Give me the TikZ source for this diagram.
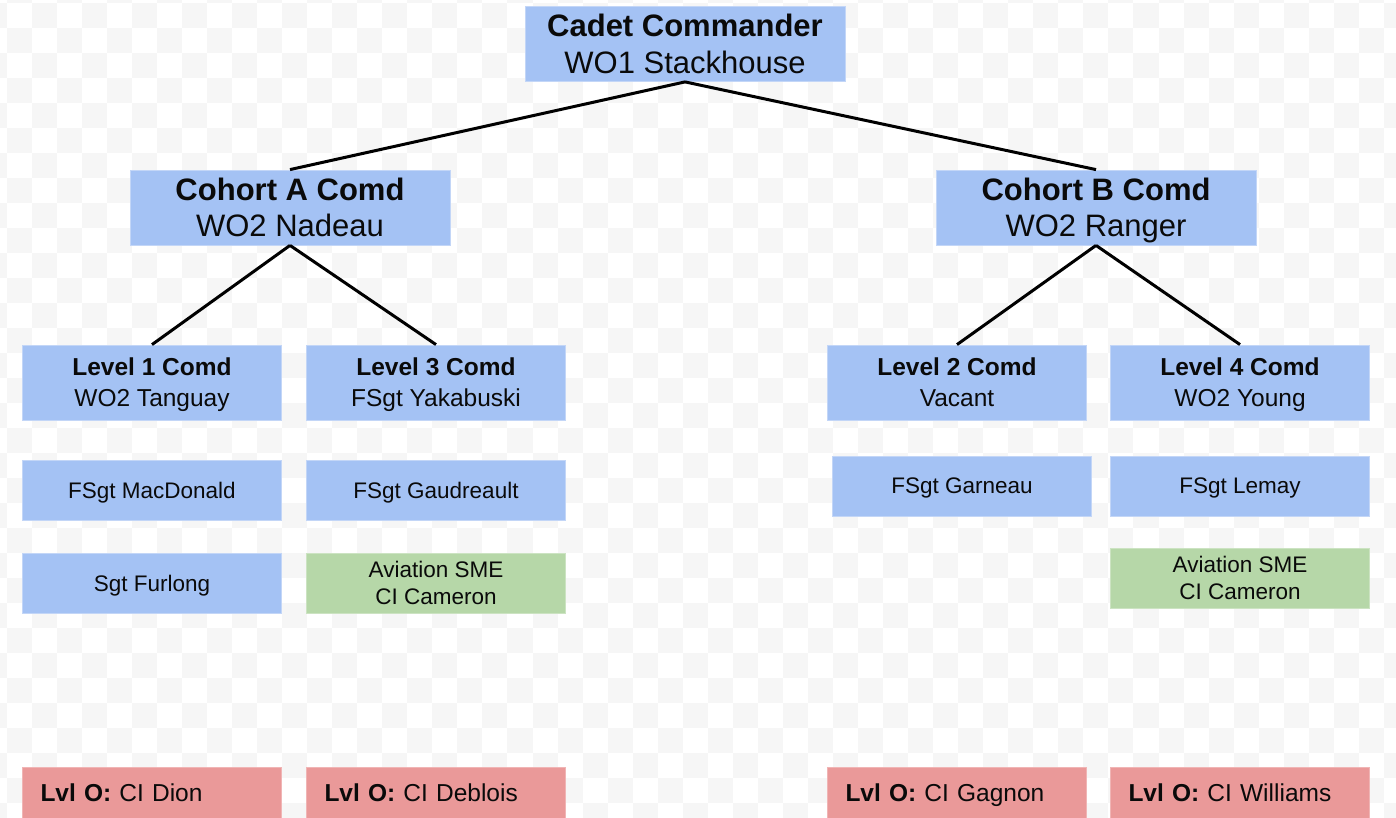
\documentclass[tikz,border=0pt]{standalone}
\usepackage{fontspec}
\setmainfont{Liberation Sans}
\definecolor{cblue}{HTML}{A4C2F4}
\definecolor{cblueedge}{HTML}{C3D6F7}
\definecolor{cgreen}{HTML}{B6D7A8}
\definecolor{cgreenedge}{HTML}{CCE3C2}
\definecolor{cred}{HTML}{EA9999}
\definecolor{credge}{HTML}{F0B5B5}
\definecolor{checker}{RGB}{246,246,246}
\definecolor{inktext}{HTML}{0A0A0A}
\tikzset{
  unit/.style={rectangle, inner sep=0pt, text depth=0pt, align=center, line width=0.8pt, text=inktext},
  bluebox/.style={unit, fill=cblue, draw=cblueedge},
  greenbox/.style={unit, fill=cgreen, draw=cgreenedge},
  bigbox/.style={bluebox, minimum width=320pt, minimum height=75pt, font=\fontsize{31}{36.5}\selectfont},
  midbox/.style={bluebox, minimum width=259pt, minimum height=75pt, font=\fontsize{24.5}{31}\selectfont},
  smallsize/.style={minimum width=259pt, minimum height=60pt, font=\fontsize{22.5}{27.3}\selectfont},
  smallblue/.style={bluebox, smallsize},
  smallgreen/.style={greenbox, smallsize},
  redbox/.style={rectangle, fill=cred, draw=credge, line width=0.8pt, text=inktext,
    text width=223pt, align=left, inner xsep=18pt, inner ysep=0pt, text depth=0pt,
    minimum height=51pt, font=\fontsize{24.5}{30}\selectfont},
  tie/.style={draw=black, line width=3pt}
}
\begin{document}
\begin{tikzpicture}[x=1pt,y=-1pt]
\useasboundingbox (0,0) rectangle (1396,818);
\fill[white] (0,0) rectangle (1396,818);
\foreach \i in {0,...,56}{
  \foreach \j in {0,...,33}{
    \pgfmathtruncatemacro\parsum{\i+\j}
    \ifodd\parsum
      \fill[checker] ({6.67+25.04*(\i-1)},{3.3+25*(\j-1)}) rectangle ++(25.04,25);
    \fi
  }
}
% top
\node[bigbox] (cadet) at (685,44) {\textbf{Cadet Commander}\\WO1 Stackhouse};
\node[bigbox] (cohA) at (290,207.5) {\textbf{Cohort A Comd}\\WO2 Nadeau};
\node[bigbox] (cohB) at (1096,207.5) {\textbf{Cohort B Comd}\\WO2 Ranger};
% levels
\node[midbox] (lv1) at (152,382.5) {\textbf{Level 1 Comd}\\WO2 Tanguay};
\node[midbox] (lv3) at (436,382.5) {\textbf{Level 3 Comd}\\FSgt Yakabuski};
\node[midbox] (lv2) at (957,382.5) {\textbf{Level 2 Comd}\\Vacant};
\node[midbox] (lv4) at (1240,382.5) {\textbf{Level 4 Comd}\\WO2 Young};
% members
\node[smallblue] (macd) at (152,490) {FSgt MacDonald};
\node[smallblue] (gaud) at (436,490) {FSgt Gaudreault};
\node[smallblue] (furl) at (152,583) {Sgt Furlong};
\node[smallgreen] (smeA) at (436,583) {Aviation SME\\CI Cameron};
\node[smallblue] (garn) at (962,486) {FSgt Garneau};
\node[smallblue] (lema) at (1240,486) {FSgt Lemay};
\node[smallgreen] (smeB) at (1240,578) {Aviation SME\\CI Cameron};
% level O
\node[redbox] (lo1) at (152,792.5) {\textbf{Lvl O:} CI Dion};
\node[redbox] (lo3) at (436,792.5) {\textbf{Lvl O:} CI Deblois};
\node[redbox] (lo2) at (957,792.5) {\textbf{Lvl O:} CI Gagnon};
\node[redbox] (lo4) at (1240,792.5) {\textbf{Lvl O:} CI Williams};
% connectors
\draw[tie] (cadet.south) -- (cohA.north);
\draw[tie] (cadet.south) -- (cohB.north);
\draw[tie] (cohA.south) -- (lv1.north);
\draw[tie] (cohA.south) -- (lv3.north);
\draw[tie] (cohB.south) -- (lv2.north);
\draw[tie] (cohB.south) -- (lv4.north);
\end{tikzpicture}
\end{document}
